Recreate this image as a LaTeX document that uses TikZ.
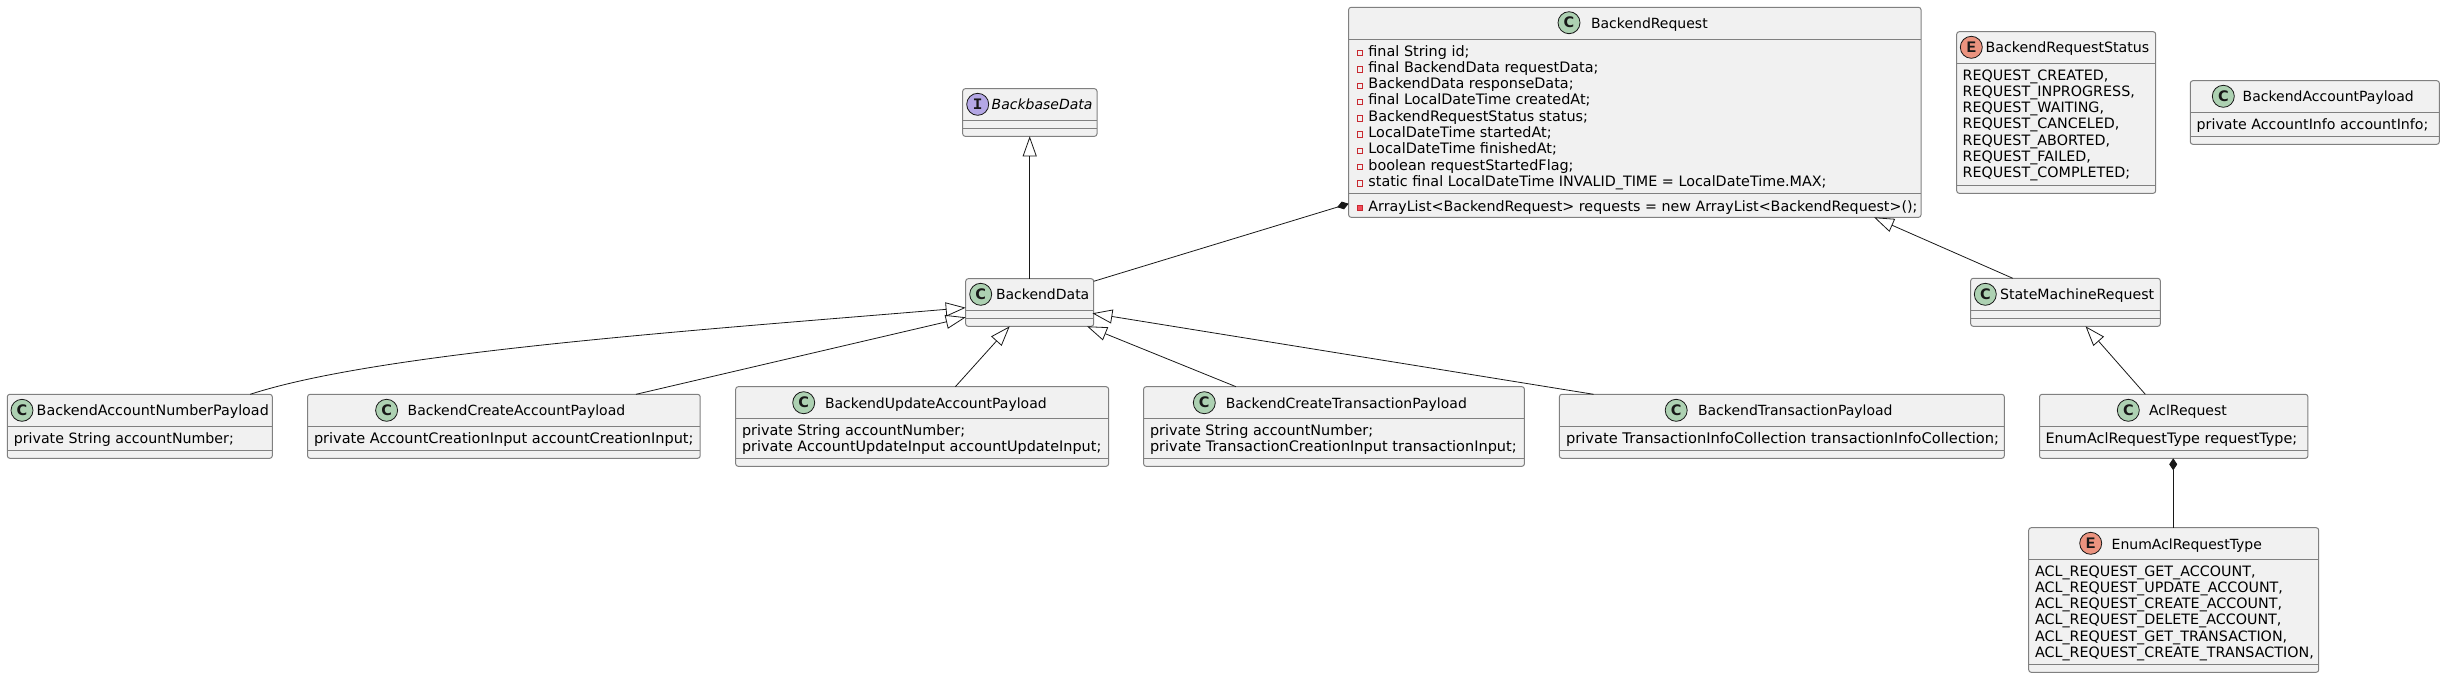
\documentclass[tikz,border=0pt]{standalone}
\usepackage{fontspec}
\setmainfont{DejaVu Sans}
\newfontfamily\iconE{Liberation Mono}
\usetikzlibrary{arrows.meta}
\definecolor{boxfill}{HTML}{F1F1F1}
\definecolor{boxline}{HTML}{808080}
\definecolor{ink}{HTML}{181818}
\definecolor{iconc}{HTML}{ADD1B2}
\definecolor{icone}{HTML}{EB937F}
\definecolor{iconi}{HTML}{B4A7E5}
\definecolor{privline}{HTML}{C82930}
\definecolor{privfill}{HTML}{F24D5C}
\newcommand{\sz}[1]{\fontsize{#1}{16}\selectfont}
\tikzset{
  umlbox/.style={draw=boxline,fill=boxfill,line width=1pt,rounded corners=2.5pt,inner sep=0pt,outer sep=0pt},
  divider/.style={draw=boxline,line width=1pt},
  label/.style={inner sep=0pt,outer sep=0pt,anchor=base west,text=black,font=\sz{14}},
  rowlabel/.style={label,font=\sz{14.4}},
  icon/.style={circle,draw=ink,line width=.8pt,minimum size=22pt,inner sep=0pt,text=ink},
  privmark/.style={rectangle,draw=privline,fill=boxfill,line width=.8pt,minimum size=5.4pt,inner sep=0pt},
  privmeth/.style={rectangle,draw=privline,fill=privfill,line width=.8pt,minimum size=5.4pt,inner sep=0pt},
  inherit/.style={draw=ink,line width=.8pt,-{Triangle[open,length=20pt,width=14pt,line width=.8pt]}},
  compose/.style={draw=ink,line width=.8pt,{Diamond[length=12pt,width=8pt,fill=ink]}-},
}
% name, x1, x2, top, header, mid, bottom
\newcommand{\umlclass}[7]{%
  \node[umlbox,minimum width={#3-#2},minimum height={#7-#4}] (#1) at ({(#2+#3)/2},{(#4+#7)/2}) {};
  \draw[divider] (#2,#5) -- (#3,#5);
  \draw[divider] (#2,#6) -- (#3,#6);
}
% name, icon x, icon y, colour, glyph, title x, baseline, title
\newcommand{\umlhead}[8]{%
  \node[icon,fill=#4] (#1-icon) at (#2,#3) {\bfseries #5};
  \node[label] (#1-title) at (#6,#7) {#8};
}
% name, x, first baseline, list of rows
\newcommand{\umlrows}[4]{%
  \foreach \rowtext [count=\rowi] in {#4} {
    \node[rowlabel] (#1-row\rowi) at (#2,{#3+16.3*(\rowi-1)}) {\rowtext};
  }
}
\newcommand{\CC}{\fontsize{14.5}{16}\selectfont C}
\newcommand{\EE}{\fontsize{16}{16}\selectfont\iconE E}
\newcommand{\II}{\fontsize{16}{16}\selectfont\iconE I}
\begin{document}
\begin{tikzpicture}[x=1pt,y=-1pt]
\useasboundingbox (0,0) rectangle (2445,678);

% BackendRequest
\umlclass{br}{1348.6}{1921}{7.3}{39.3}{193.3}{217.3}
\umlhead{br}{1569}{22.7}{iconc}{\CC}{1591}{28.3}{BackendRequest}
\umlrows{br}{1368.4}{56}{{final String id;},{final BackendData requestData;},{BackendData responseData;},{final LocalDateTime createdAt;},{BackendRequestStatus status;},{LocalDateTime startedAt;},{LocalDateTime finishedAt;},{boolean requestStartedFlag;},{\sz{14.34}static final LocalDateTime INVALID\_TIME = LocalDateTime.MAX;}}
\foreach \mi in {1,...,9} {
  \node[privmark] (br-mark\mi) at ([xshift=-8.7pt,yshift=3pt]br-row\mi.base west) {};
}
\node[rowlabel,font=\sz{14.25}] (br-meth) at (1368.4,211) {ArrayList<BackendRequest> requests = new ArrayList<BackendRequest>();};
\node[privmeth] (br-methmark) at ([xshift=-8.7pt,yshift=3pt]br-meth.base west) {};

% BackendRequestStatus
\umlclass{brs}{1956.7}{2155.7}{31.7}{63.3}{185.3}{193.3}
\umlhead{brs}{1971.3}{47.3}{icone}{\EE}{1985.7}{52.5}{\sz{14.2}BackendRequestStatus}
\umlrows{brs}{1962.7}{80}{{\sz{14.3}REQUEST\_CREATED,},{\sz{14.3}REQUEST\_INPROGRESS,},{\sz{14.3}REQUEST\_WAITING,},{\sz{14.3}REQUEST\_CANCELED,},{\sz{14.3}REQUEST\_ABORTED,},{\sz{14.3}REQUEST\_FAILED,},{\sz{14.3}REQUEST\_COMPLETED;}}

% BackendAccountPayload
\umlclass{bap}{2190.3}{2439.3}{80.7}{112.3}{136.3}{144.3}
\umlhead{bap}{2223.3}{96.3}{iconc}{\CC}{2242.7}{101.5}{BackendAccountPayload}
\umlrows{bap}{2196.7}{129}{{\sz{14.2}private AccountInfo accountInfo;}}

% BackbaseData
\umlclass{bb}{962.7}{1097}{88.7}{120.7}{128.7}{136.3}
\umlhead{bb}{977.7}{104.3}{iconi}{\II}{991.7}{109.5}{\itshape BackbaseData}

% BackendData
\umlclass{bd}{965.7}{1093.7}{278.7}{310.3}{318.3}{326.3}
\umlhead{bd}{980.7}{294.3}{iconc}{\CC}{996}{299.5}{BackendData}

% StateMachineRequest
\umlclass{smr}{1970.7}{2160.3}{278.3}{310.3}{318.3}{326.3}
\umlhead{smr}{1985.3}{294.3}{iconc}{\CC}{2000}{299.5}{\sz{14.15}StateMachineRequest}

% BackendAccountNumberPayload
\umlclass{ban}{7.3}{272.3}{394.3}{426.3}{450.3}{458.3}
\umlhead{ban}{22}{410.3}{iconc}{\CC}{36.7}{415.5}{\sz{14.3}BackendAccountNumberPayload}
\umlrows{ban}{13.8}{443}{{\sz{14.2}private String accountNumber;}}

% BackendCreateAccountPayload
\umlclass{bca}{307.6}{700.2}{394.3}{426.3}{450.3}{458.3}
\umlhead{bca}{386.6}{410.3}{iconc}{\CC}{407.7}{415.5}{BackendCreateAccountPayload}
\umlrows{bca}{314}{443}{{\sz{14.5}private AccountCreationInput accountCreationInput;}}

% BackendUpdateAccountPayload
\umlclass{bua}{735.7}{1108.6}{386.7}{418.3}{458.3}{466.3}
\umlhead{bua}{803.7}{402.7}{iconc}{\CC}{825}{408}{BackendUpdateAccountPayload}
\umlrows{bua}{742}{435.3}{{private String accountNumber;},{private AccountUpdateInput accountUpdateInput;}}

% BackendCreateTransactionPayload
\umlclass{bct}{1143.6}{1524.4}{386.7}{418.3}{458.3}{466.3}
\umlhead{bct}{1204.3}{402.7}{iconc}{\CC}{1225.8}{408}{BackendCreateTransactionPayload}
\umlrows{bct}{1150}{435.3}{{private String accountNumber;},{\sz{14.5}private TransactionCreationInput transactionInput;}}

% BackendTransactionPayload
\umlclass{btp}{1559.4}{2004.3}{394.3}{426.3}{450.3}{458.3}
\umlhead{btp}{1676.2}{410.3}{iconc}{\CC}{1698}{415.5}{BackendTransactionPayload}
\umlrows{btp}{1566}{443}{{\sz{14.65}private TransactionInfoCollection transactionInfoCollection;}}

% AclRequest
\umlclass{acl}{2039.5}{2307.9}{394.3}{426.3}{450.3}{458.3}
\umlhead{acl}{2128.3}{410.3}{iconc}{\CC}{2149}{415.5}{AclRequest}
\umlrows{acl}{2045.6}{443}{{EnumAclRequestType requestType;}}

% EnumAclRequestType
\umlclass{eart}{2028.7}{2318.7}{527.7}{559.3}{664.3}{672.3}
\umlhead{eart}{2090.7}{543.3}{icone}{\EE}{2111.7}{549}{EnumAclRequestType}
\umlrows{eart}{2035}{576}{{\sz{14.3}ACL\_REQUEST\_GET\_ACCOUNT,},{\sz{14.3}ACL\_REQUEST\_UPDATE\_ACCOUNT,},{\sz{14.3}ACL\_REQUEST\_CREATE\_ACCOUNT,},{\sz{14.3}ACL\_REQUEST\_DELETE\_ACCOUNT,},{\sz{14.3}ACL\_REQUEST\_GET\_TRANSACTION,},{\sz{14.3}ACL\_REQUEST\_CREATE\_TRANSACTION,}}

% Connectors
\draw[inherit] (bd.north) -- (bd.north |- bb.south);
\draw[compose] ([yshift=13.6pt]br.south west) -- ([yshift=-2.6pt]bd.north east);
\draw[inherit] ([xshift=110.4pt]ban.north) .. controls (380,352) and (700,330) .. ([yshift=-5.2pt]bd.west);
\draw[inherit] ([xshift=132.1pt]bca.north) -- ([yshift=-14.8pt]bd.west);
\draw[inherit] ([xshift=33.2pt]bua.north) -- ([xshift=-20pt]bd.south);
\draw[inherit] ([xshift=-98pt]bct.north) -- ([xshift=57.3pt]bd.south);
\draw[inherit] ([xshift=-188.2pt]btp.north) -- ([yshift=-10.8pt,xshift=-1.3pt]bd.east);
\draw[inherit] ([xshift=-52.7pt]smr.north) -- ([xshift=-47pt]br.south east);
\draw[inherit] ([xshift=-28.4pt]acl.north) -- ([xshift=20pt]smr.south);
\draw[compose] ([xshift=-.5pt]acl.south) -- ([xshift=-.5pt]acl.south |- eart.north);
\end{tikzpicture}
\end{document}
